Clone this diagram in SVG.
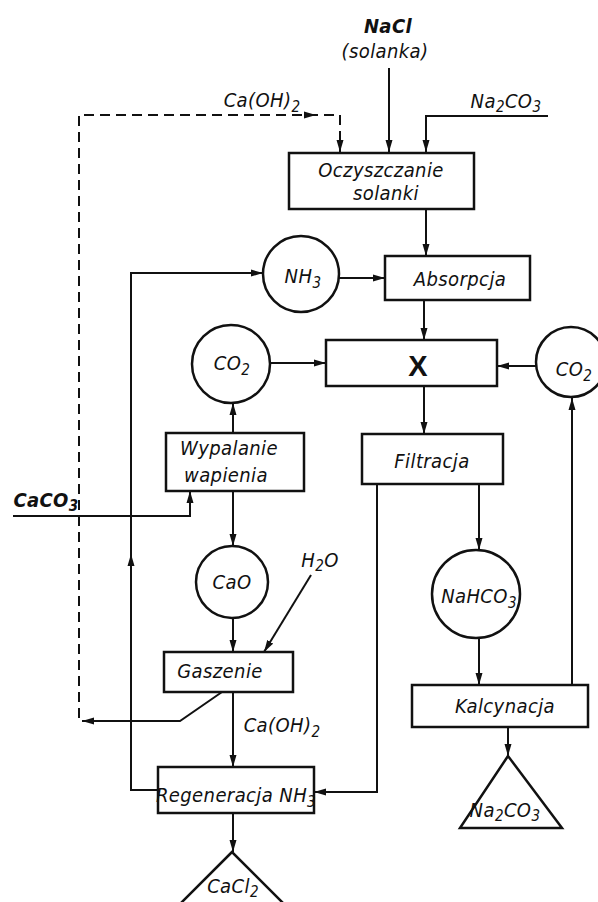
<svg xmlns="http://www.w3.org/2000/svg" width="598" height="902" viewBox="0 0 598 902">
<style>
.t{font-family:"DejaVu Sans Condensed","DejaVu Sans","Liberation Sans",sans-serif;font-style:oblique;font-size:20px;letter-spacing:0.4px;fill:#111;text-anchor:middle}
.b{font-weight:bold}
.n{fill:#fff;stroke:#111;stroke-width:2.5}
.c{fill:none;stroke:#111;stroke-width:2}
.d{stroke-dasharray:10 6}
.s{font-size:15px}
</style>
<defs>
<marker id="a" markerUnits="userSpaceOnUse" markerWidth="12" markerHeight="8" refX="12" refY="4" orient="auto"><path d="M0,0.5 L12,4 L0,7.5 z" fill="#111"/></marker>
</defs>
<rect width="598" height="902" fill="#fff"/>
<g id="connectors">
<path class="c" d="M389,68 V152" marker-end="url(#a)"/>
<path class="c" d="M222,692 L180,721 H82" marker-end="url(#a)"/>
<path class="c d" d="M79,718 V115 H340 V152" marker-end="url(#a)"/>
<path d="M304,111.5 L316,115 L304,118.5 z" fill="#111"/>
<path class="c" d="M548,116 H426 V152" marker-end="url(#a)"/>
<path class="c" d="M426,210 V256" marker-end="url(#a)"/>
<path class="c" d="M339,278 H385" marker-end="url(#a)"/>
<path class="c" d="M158,790 H131 V273 H263" marker-end="url(#a)"/>
<path d="M127.5,566 L131,554 L134.5,566 z" fill="#111"/>
<path class="c" d="M424,300 V340" marker-end="url(#a)"/>
<path class="c" d="M270,363 H326" marker-end="url(#a)"/>
<path class="c" d="M536,366 H497" marker-end="url(#a)"/>
<path class="c" d="M572,685 V398" marker-end="url(#a)"/>
<path class="c" d="M424,386 V434" marker-end="url(#a)"/>
<path class="c" d="M377,484 V792 H314" marker-end="url(#a)"/>
<path class="c" d="M479,484 V550" marker-end="url(#a)"/>
<path class="c" d="M479,638 V685" marker-end="url(#a)"/>
<path class="c" d="M508,727 V756" marker-end="url(#a)"/>
<path class="c" d="M233,433 V403" marker-end="url(#a)"/>
<path class="c" d="M13,516 H190 V491" marker-end="url(#a)"/>
<path class="c" d="M233,491 V546" marker-end="url(#a)"/>
<path class="c" d="M233,618 V652" marker-end="url(#a)"/>
<path class="c" d="M311,575 L264,652" marker-end="url(#a)"/>
<path class="c" d="M233,692 V767" marker-end="url(#a)"/>
<path class="c" d="M233,813 V852" marker-end="url(#a)"/>
</g>
<g id="labels">
<text class="t b" x="388" y="33">NaCl</text>
<text class="t" x="385" y="58">(solanka)</text>
<text class="t" x="262" y="107">Ca(OH)<tspan class="s" dy="5">2</tspan></text>
<text class="t" x="506" y="108">Na<tspan class="s" dy="4">2</tspan><tspan dy="-4">CO</tspan><tspan class="s" dy="4">3</tspan></text>
<text class="t b" x="46" y="507">CaCO<tspan class="s" dy="4">3</tspan></text>
<text class="t" x="320" y="567">H<tspan class="s" dy="4">2</tspan><tspan dy="-4">O</tspan></text>
<text class="t" x="282" y="732">Ca(OH)<tspan class="s" dy="5">2</tspan></text>
</g>
<g id="oczyszczanie"><rect class="n" x="289" y="153" width="185" height="56"/><text class="t" x="381" y="177">Oczyszczanie</text><text class="t" x="386" y="200">solanki</text></g>
<g id="absorpcja"><rect class="n" x="385" y="256" width="145" height="44"/><text class="t" x="460" y="286">Absorpcja</text></g>
<g id="x"><rect class="n" x="326" y="340" width="171" height="46"/><text x="418" y="376" font-family="Liberation Sans,Arial,sans-serif" font-weight="bold" font-size="29" text-anchor="middle" fill="#111">X</text></g>
<g id="filtracja"><rect class="n" x="362" y="434" width="141" height="50"/><text class="t" x="432" y="468">Filtracja</text></g>
<g id="kalcynacja"><rect class="n" x="412" y="685" width="176" height="42"/><text class="t" x="505" y="713">Kalcynacja</text></g>
<g id="wypalanie"><rect class="n" x="166" y="433" width="138" height="58"/><text class="t" x="229" y="455">Wypalanie</text><text class="t" x="226" y="482">wapienia</text></g>
<g id="gaszenie"><rect class="n" x="164" y="652" width="129" height="40"/><text class="t" x="220" y="678">Gaszenie</text></g>
<g id="regeneracja"><rect class="n" x="158" y="767" width="156" height="46"/><text class="t" x="236" y="802">Regeneracja NH<tspan class="s" dy="5">3</tspan></text></g>
<g id="nh3"><circle class="n" cx="301" cy="274" r="38"/><text class="t" x="303" y="283">NH<tspan class="s" dy="5">3</tspan></text></g>
<g id="co2-left"><circle class="n" cx="231" cy="364" r="39"/><text class="t" x="232" y="370">CO<tspan class="s" dy="5">2</tspan></text></g>
<g id="co2-right"><circle class="n" cx="571" cy="362" r="35"/><text class="t" x="574" y="376">CO<tspan class="s" dy="5">2</tspan></text></g>
<g id="nahco3"><circle class="n" cx="476" cy="594" r="44"/><text class="t" x="479" y="603">NaHCO<tspan class="s" dy="5">3</tspan></text></g>
<g id="cao"><circle class="n" cx="232" cy="582" r="36"/><text class="t" x="232" y="589">CaO</text></g>
<g id="na2co3"><path class="n" d="M508,756 L460,828 H562 Z"/><text class="t" x="505" y="817">Na<tspan class="s" dy="4">2</tspan><tspan dy="-4">CO</tspan><tspan class="s" dy="4">3</tspan></text></g>
<g id="cacl2"><path class="n" d="M232,852 L172,912 H292 Z"/><text class="t" x="233" y="893">CaCl<tspan class="s" dy="4">2</tspan></text></g>
</svg>
